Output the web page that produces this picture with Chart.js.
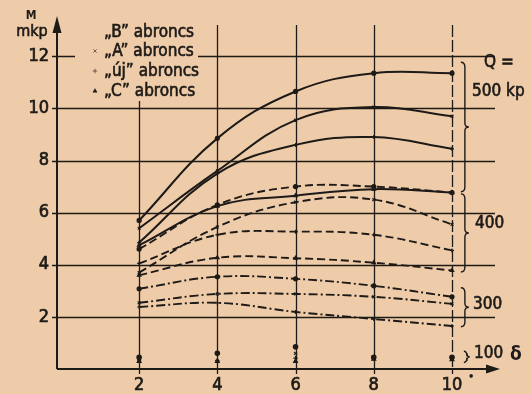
<!DOCTYPE html>
<html>
<head>
<meta charset="utf-8">
<script src="https://cdn.jsdelivr.net/npm/chart.js@4/dist/chart.umd.min.js"></script>
<style>
  html, body { margin: 0; padding: 0; background: #efcca9; }
  canvas { display: block; }
</style>
</head>
<body>
<canvas id="c" width="531" height="394"></canvas>
<script>
// Steering moment M (mkp) against steer angle δ (°) for four tyres at four wheel loads
const deltaDeg = [2, 4, 6, 8, 10];
const xTickValues = [2, 4, 6, 8, 10];
const yTickValues = [2, 4, 6, 8, 10, 12];

// Q = 500 kp (solid)
const q500B = [5.7, 8.85, 10.65, 11.35, 11.35];
const q500A = [5.4, 7.6, 9.55, 10.05, 9.7];
const q500U = [4.85, 7.5, 8.6, 8.9, 8.45];
const q500C = [4.75, 6.25, 6.65, 6.9, 6.77];
// Q = 400 kp (dashed)
const q400B = [4.6, 6.3, 7.0, 7.0, 6.77];
const q400A = [3.7, 5.45, 6.4, 6.5, 5.55];
const q400U = [4.05, 5.15, 5.27, 5.15, 4.55];
const q400C = [3.6, 4.27, 4.25, 4.08, 3.78];
// Q = 300 kp (dash-dot)
const q300B = [3.08, 3.54, 3.46, 3.19, 2.77];
const q300A = [2.54, 2.88, 2.88, 2.77, 2.5];
const q300U = [2.38, 2.54, 2.19, 1.92, 1.65];
// Q = 100 kp (points only)
const q100B = [0.45, 0.6, 0.85, 0.45, 0.45];
const q100A = [0.3, 0.3, 0.6, 0.42, 0.4];
const q100U = [0.35, 0.32, 0.42, 0.4, 0.42];
const q100C = [0.3, 0.3, 0.3, 0.38, 0.36];

const legendLabels = ['\u201EB\u201D abroncs', '\u201EA\u201D abroncs', '\u201E\u00FAj\u201D abroncs', '\u201EC\u201D abroncs'];

const INK = '#1d1a17';
const PAPER = '#efcca9';
const FONT = "'DejaVu Sans Condensed', 'DejaVu Sans', sans-serif";

const markerFor = { B: 'circle', A: 'crossRot', U: 'cross', C: 'triangle' };
const dashFor = { 500: [], 400: [8, 4], 300: [9, 3, 2, 3] };

function pts(vals) { return deltaDeg.map((d, i) => ({ x: d, y: vals[i] })); }

function curve(vals, load, tyre) {
  return {
    data: pts(vals),
    borderColor: INK,
    backgroundColor: INK,
    borderWidth: load === 500 ? 2 : 1.9,
    borderDash: dashFor[load],
    tension: 0.4,
    pointStyle: markerFor[tyre],
    pointRadius: 2,
    pointBorderWidth: 1.2,
    pointBorderColor: INK,
    pointBackgroundColor: INK,
    fill: false
  };
}
function dots(vals, tyre) {
  return {
    data: pts(vals),
    showLine: false,
    pointStyle: markerFor[tyre],
    pointRadius: 2.2,
    pointBorderWidth: 1.2,
    pointBorderColor: INK,
    pointBackgroundColor: INK
  };
}

const datasets = [
  curve(q500B, 500, 'B'), curve(q500A, 500, 'A'), curve(q500U, 500, 'U'), curve(q500C, 500, 'C'),
  curve(q400B, 400, 'B'), curve(q400A, 400, 'A'), curve(q400U, 400, 'U'), curve(q400C, 400, 'C'),
  curve(q300B, 300, 'B'), curve(q300A, 300, 'A'), curve(q300U, 300, 'U'),
  dots(q100B, 'B'), dots(q100A, 'A'), dots(q100U, 'U'), dots(q100C, 'C')
];

function brace(ctx, x, yTop, yBot, w) {
  const mid = (yTop + yBot) / 2;
  ctx.beginPath();
  ctx.moveTo(x - w, yTop);
  ctx.quadraticCurveTo(x, yTop, x, yTop + 5);
  ctx.lineTo(x, mid - 4);
  ctx.quadraticCurveTo(x, mid, x + w, mid);
  ctx.quadraticCurveTo(x, mid, x, mid + 4);
  ctx.lineTo(x, yBot - 5);
  ctx.quadraticCurveTo(x, yBot, x - w, yBot);
  ctx.stroke();
}

// filled text with a thin outline, for a slightly heavier print look
function inkText(ctx, t, x, y) {
  ctx.fillText(t, x, y);
  ctx.strokeText(t, x, y);
}

const paperPlugin = {
  id: 'paper',
  beforeDraw(chart) {
    const ctx = chart.ctx;
    ctx.save();
    ctx.fillStyle = PAPER;
    ctx.fillRect(0, 0, chart.width, chart.height);
    ctx.restore();
  },
  beforeDatasetsDraw(chart) {
    const { ctx, chartArea: a, scales: { x, y } } = chart;
    ctx.save();
    ctx.strokeStyle = INK;
    ctx.lineWidth = 1.3;
    // grid
    yTickValues.forEach(v => {
      const py = Math.round(y.getPixelForValue(v)) + 0.5;
      ctx.beginPath(); ctx.moveTo(a.left - 5, py); ctx.lineTo(a.right, py); ctx.stroke();
    });
    xTickValues.forEach(v => {
      const px = Math.round(x.getPixelForValue(v)) + 0.5;
      ctx.setLineDash(v === 10 ? [12, 3] : []);
      ctx.beginPath(); ctx.moveTo(px, a.top); ctx.lineTo(px, a.bottom + 5); ctx.stroke();
    });
    ctx.setLineDash([]);
    // clear area behind the key
    ctx.fillStyle = PAPER;
    ctx.fillRect(75, 14, 123, 87);
    // axes with arrowheads
    ctx.lineWidth = 2;
    ctx.beginPath(); ctx.moveTo(a.left, a.bottom); ctx.lineTo(a.left, 28); ctx.stroke();
    ctx.beginPath(); ctx.moveTo(a.left, a.bottom); ctx.lineTo(490, a.bottom); ctx.stroke();
    ctx.fillStyle = INK;
    ctx.beginPath(); ctx.moveTo(a.left, 16); ctx.lineTo(a.left - 4.5, 33); ctx.lineTo(a.left + 4.5, 33); ctx.closePath(); ctx.fill();
    ctx.beginPath(); ctx.moveTo(500, a.bottom); ctx.lineTo(486, a.bottom - 4.5); ctx.lineTo(486, a.bottom + 4.5); ctx.closePath(); ctx.fill();
    ctx.restore();
  },
  afterDraw(chart) {
    const { ctx, scales: { x, y } } = chart;
    ctx.save();
    ctx.fillStyle = INK;
    ctx.strokeStyle = INK;
    ctx.lineWidth = 0.6;
    ctx.textBaseline = 'middle';
    // axis titles
    ctx.textAlign = 'center';
    ctx.font = `bold 12px ${FONT}`;
    ctx.fillText('M', 31, 16);
    ctx.font = `16px ${FONT}`;
    inkText(ctx, 'mkp', 32, 32);
    // key
    const rows = [33, 52, 72, 92];
    const styles = ['circle', 'crossRot', 'cross', 'triangle'];
    ctx.textAlign = 'left';
    ctx.font = `17px ${FONT}`;
    legendLabels.forEach((t, i) => {
      inkText(ctx, t, 104, rows[i]);
      if (i > 0) Chart.helpers.drawPoint(ctx, { pointStyle: styles[i], radius: 2.3, borderWidth: 1.2 }, 95, rows[i] - 1);
    });
    // load groups
    const bx = x.getPixelForValue(10.33);
    ctx.lineWidth = 1.4;
    brace(ctx, bx, y.getPixelForValue(11.77), y.getPixelForValue(6.8), 4);
    brace(ctx, bx, y.getPixelForValue(6.72), y.getPixelForValue(3.72), 4);
    brace(ctx, bx, y.getPixelForValue(3.12), y.getPixelForValue(1.62), 4);
    brace(ctx, bx + 2, y.getPixelForValue(0.68), y.getPixelForValue(0.25), 3);
    ctx.lineWidth = 0.6;
    ctx.font = `17px ${FONT}`;
    ctx.textAlign = 'left';
    inkText(ctx, 'Q =', 484, 63);
    inkText(ctx, '500 kp', 472, 92);
    inkText(ctx, '400', 475, 224);
    inkText(ctx, '300', 473, 305);
    inkText(ctx, '100', 474, 354);
    ctx.font = `bold 19px ${FONT}`;
    ctx.fillText('\u03B4', 510, 355);
    ctx.font = `bold 11px ${FONT}`;
    ctx.fillText('\u2022', 468, 377);
    ctx.restore();
  }
};

const tickFont = { family: FONT, size: 18 };

new Chart(document.getElementById('c'), {
  type: 'line',
  data: { datasets },
  options: {
    responsive: false,
    animation: false,
    devicePixelRatio: 1,
    layout: { padding: { top: 25, right: 36, left: 0, bottom: 0 } },
    plugins: { legend: { display: false }, tooltip: { enabled: false } },
    scales: {
      x: {
        type: 'linear', min: -0.1, max: 11.1,
        grid: { display: false, drawTicks: false },
        border: { display: false },
        ticks: { color: INK, font: tickFont, padding: 6, textStrokeColor: INK, textStrokeWidth: 0.7 },
        afterBuildTicks(s) { s.ticks = xTickValues.map(v => ({ value: v })); },
        afterFit(s) { s.height = 25; }
      },
      y: {
        type: 'linear', min: 0, max: 13.2,
        grid: { display: false, drawTicks: false },
        border: { display: false },
        ticks: { color: INK, font: tickFont, padding: 8, textStrokeColor: INK, textStrokeWidth: 0.7 },
        afterBuildTicks(s) { s.ticks = yTickValues.map(v => ({ value: v })); },
        afterFit(s) { s.width = 57; }
      }
    }
  },
  plugins: [paperPlugin]
});
</script>
</body>
</html>
